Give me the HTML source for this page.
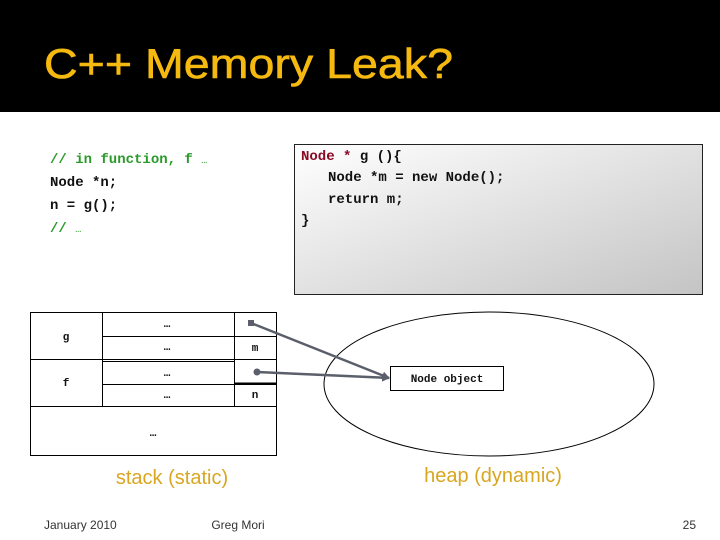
<!DOCTYPE html>
<html><head><meta charset="utf-8"><style>
html,body{margin:0;padding:0;background:#fff;width:720px;height:540px;overflow:hidden}
svg{display:block}
.c{font-family:"Liberation Mono",monospace;font-size:14px;font-weight:bold;fill:#111}
.s{font-family:"Liberation Mono",monospace;font-size:11px;font-weight:bold;fill:#111}
.a{font-family:"Liberation Sans",sans-serif}
</style></head><body>
<svg width="720" height="540" viewBox="0 0 720 540" xmlns="http://www.w3.org/2000/svg">
<defs>
<linearGradient id="g" x1="0" y1="0" x2="1" y2="1">
<stop offset="0" stop-color="#ffffff"/><stop offset="1" stop-color="#c4c4c4"/>
</linearGradient>
<marker id="ar" markerWidth="8" markerHeight="8" refX="7" refY="4" orient="auto" markerUnits="userSpaceOnUse">
<path d="M0,0 L8,4 L0,8 z" fill="#5a5f6b"/></marker>
</defs>
<rect x="0" y="0" width="720" height="112" fill="#000"/>
<text x="44" y="78" class="a" font-size="42" fill="#f5b90f" stroke="#f5b90f" stroke-width="0.6" textLength="409" lengthAdjust="spacingAndGlyphs">C++ Memory Leak?</text>

<text x="50" y="163" class="c" style="fill:#2a9a2a">// in function, f <tspan font-weight="normal" font-size="10">…</tspan></text>
<text x="50" y="186" class="c">Node *n;</text>
<text x="50" y="209" class="c">n = g();</text>
<text x="50" y="232" class="c" style="fill:#2a9a2a">// <tspan font-weight="normal" font-size="10">…</tspan></text>

<rect x="294.5" y="144.5" width="408" height="150" fill="url(#g)" stroke="#222" stroke-width="1"/>
<text x="301" y="160" class="c"><tspan style="fill:#8b0a24">Node * </tspan>g (){</text>
<text x="328" y="181" class="c">Node *m = new Node();</text>
<text x="328" y="203" class="c">return m;</text>
<text x="301" y="224" class="c">}</text>

<g stroke="#000" stroke-width="1" fill="none">
<rect x="30.5" y="312.5" width="246" height="143"/>
<line x1="102.5" y1="312" x2="102.5" y2="406"/>
<line x1="234.5" y1="312" x2="234.5" y2="406"/>
<line x1="102" y1="336.5" x2="277" y2="336.5"/>
<line x1="30" y1="359.5" x2="277" y2="359.5"/>
<line x1="102" y1="361.5" x2="234" y2="361.5"/>
<line x1="102" y1="384.5" x2="277" y2="384.5"/>
<line x1="234" y1="383.5" x2="277" y2="383.5" stroke-width="2"/>
<line x1="30" y1="406.5" x2="277" y2="406.5"/>
</g>
<text x="66" y="340" class="s" text-anchor="middle">g</text>
<text x="66" y="386" class="s" text-anchor="middle">f</text>
<text x="167" y="327" class="s" text-anchor="middle" font-weight="normal">…</text>
<text x="167" y="350" class="s" text-anchor="middle" font-weight="normal">…</text>
<text x="167" y="376" class="s" text-anchor="middle" font-weight="normal">…</text>
<text x="167" y="398" class="s" text-anchor="middle" font-weight="normal">…</text>
<text x="153" y="436" class="s" text-anchor="middle" font-weight="normal">…</text>
<text x="255" y="351" class="s" text-anchor="middle">m</text>
<text x="255" y="398" class="s" text-anchor="middle">n</text>

<ellipse cx="489" cy="384" rx="165" ry="72" fill="none" stroke="#000" stroke-width="1"/>
<rect x="390.5" y="366.5" width="113" height="24" fill="#fff" stroke="#000"/>
<text x="447" y="382" class="s" text-anchor="middle">Node object</text>

<rect x="248" y="320" width="6" height="6" fill="#5a5f6b"/>
<line x1="251" y1="323" x2="389" y2="378" stroke="#5a5f6b" stroke-width="2.5" marker-end="url(#ar)"/>
<circle cx="257" cy="372" r="3.5" fill="#5a5f6b"/>
<line x1="257" y1="372" x2="389" y2="378" stroke="#5a5f6b" stroke-width="2.5" marker-end="url(#ar)"/>

<text x="172" y="484" class="a" font-size="20" fill="#d9a620" text-anchor="middle">stack (static)</text>
<text x="493" y="482" class="a" font-size="20" fill="#d9a620" text-anchor="middle">heap (dynamic)</text>

<text x="44" y="529" class="a" font-size="12" fill="#333">January 2010</text>
<text x="238" y="529" class="a" font-size="12" fill="#333" text-anchor="middle">Greg Mori</text>
<text x="696" y="529" class="a" font-size="12" fill="#333" text-anchor="end">25</text>
</svg>
</body></html>
